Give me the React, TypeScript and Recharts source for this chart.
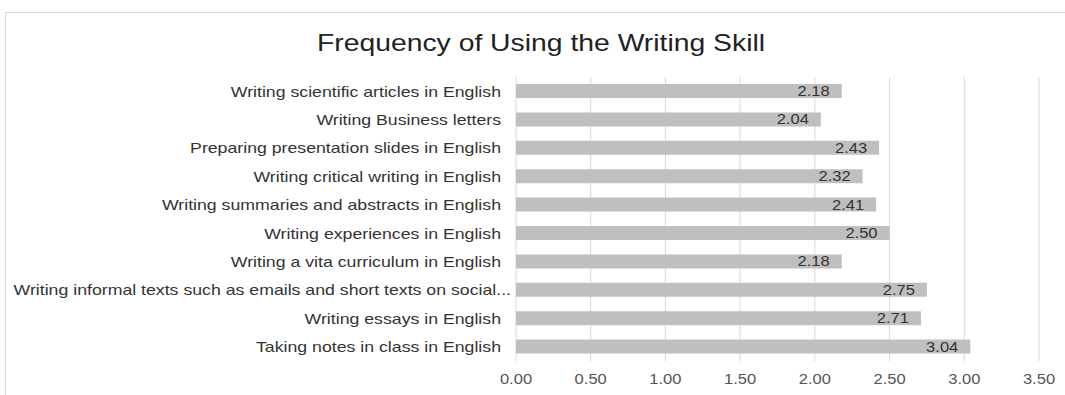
import React from "react";
import { BarChart, Bar, XAxis, YAxis, CartesianGrid, LabelList } from "recharts";

const categories = [
  "Writing scientific articles in English",
  "Writing Business letters",
  "Preparing presentation slides in English",
  "Writing critical writing in English",
  "Writing summaries and abstracts in English",
  "Writing experiences in English",
  "Writing a vita curriculum in English",
  "Writing informal texts such as emails and short texts on social...",
  "Writing essays in English",
  "Taking notes in class in English",
];
const values = [2.18, 2.04, 2.43, 2.32, 2.41, 2.5, 2.18, 2.75, 2.71, 3.04];
const xTicks = [0, 0.5, 1, 1.5, 2, 2.5, 3, 3.5];

const data = categories.map((name, i) => ({ name, value: values[i] }));

const FONT = "'Liberation Sans', Arial, sans-serif";
const STRETCH = 1.18;

let ctx: CanvasRenderingContext2D | null = null;
function measure(text: string, size: number): number {
  if (!ctx) {
    const c = document.createElement("canvas");
    ctx = c.getContext("2d");
  }
  if (!ctx) return text.length * size * 0.5;
  ctx.font = `${size}px "Liberation Sans"`;
  return ctx.measureText(text).width;
}

function StretchText(props: any) {
  const { x, y, text, size, fill, anchor, dy } = props;
  const w = measure(text, size) * STRETCH;
  return (
    <text
      x={x}
      y={y}
      dy={dy}
      textAnchor={anchor}
      fill={fill}
      fontSize={size}
      fontFamily={FONT}
      textLength={w}
      lengthAdjust="spacingAndGlyphs"
    >
      {text}
    </text>
  );
}

function YTick(props: any) {
  const { x, y, payload } = props;
  const t = String(payload.value);
  const shift = t.endsWith("...") ? 10 : 0;
  return <StretchText x={x + shift} y={y} dy="0.36em" text={t} size={15} fill="#333" anchor="end" />;
}

function XTick(props: any) {
  const { x, y, payload } = props;
  return <StretchText x={x} y={y} dy="0.75em" text={Number(payload.value).toFixed(2)} size={14} fill="#555" anchor="middle" />;
}

function BarLabel(props: any) {
  const { x, y, width, height, value } = props;
  return (
    <StretchText
      x={Number(x) + Number(width) - 12}
      y={Number(y) + Number(height) / 2}
      dy="0.36em"
      text={Number(value).toFixed(2)}
      size={14}
      fill="#333"
      anchor="end"
    />
  );
}

export default function App() {
  return (
    <div style={{ position: "absolute", left: 0, top: 0, width: 1065, height: 395, background: "#fff", overflow: "hidden", fontFamily: FONT }}>
      <div style={{ position: "absolute", left: 5, top: 12, width: 1080, height: 400, border: "1px solid #d9d9d9", boxSizing: "border-box" }} />
      <div
        style={{
          position: "absolute",
          left: 0,
          width: 1082,
          top: 29,
          textAlign: "center",
          fontSize: 24,
          color: "#222",
          transform: `scaleX(${STRETCH})`,
          transformOrigin: "541px 0",
          whiteSpace: "nowrap",
        }}
      >
        Frequency of Using the Writing Skill
      </div>
      <div style={{ position: "absolute", left: 0, top: 0 }}>
        <BarChart
          width={1065}
          height={395}
          layout="vertical"
          data={data}
          margin={{ top: 77, right: 26, bottom: 4, left: 0 }}
          barCategoryGap={0}
        >
          <CartesianGrid horizontal={false} stroke="#d9d9d9" />
          <XAxis
            type="number"
            domain={[0, 3.5]}
            ticks={xTicks}
            axisLine={false}
            tickLine={false}
            tickMargin={6}
            tick={<XTick />}
          />
          <YAxis
            type="category"
            dataKey="name"
            width={516}
            axisLine={false}
            tickLine={false}
            tickMargin={9}
            interval={0}
            tick={<YTick />}
          />
          <Bar dataKey="value" fill="#bfbfbf" barSize={14} isAnimationActive={false}>
            <LabelList dataKey="value" content={<BarLabel />} />
          </Bar>
        </BarChart>
      </div>
    </div>
  );
}
